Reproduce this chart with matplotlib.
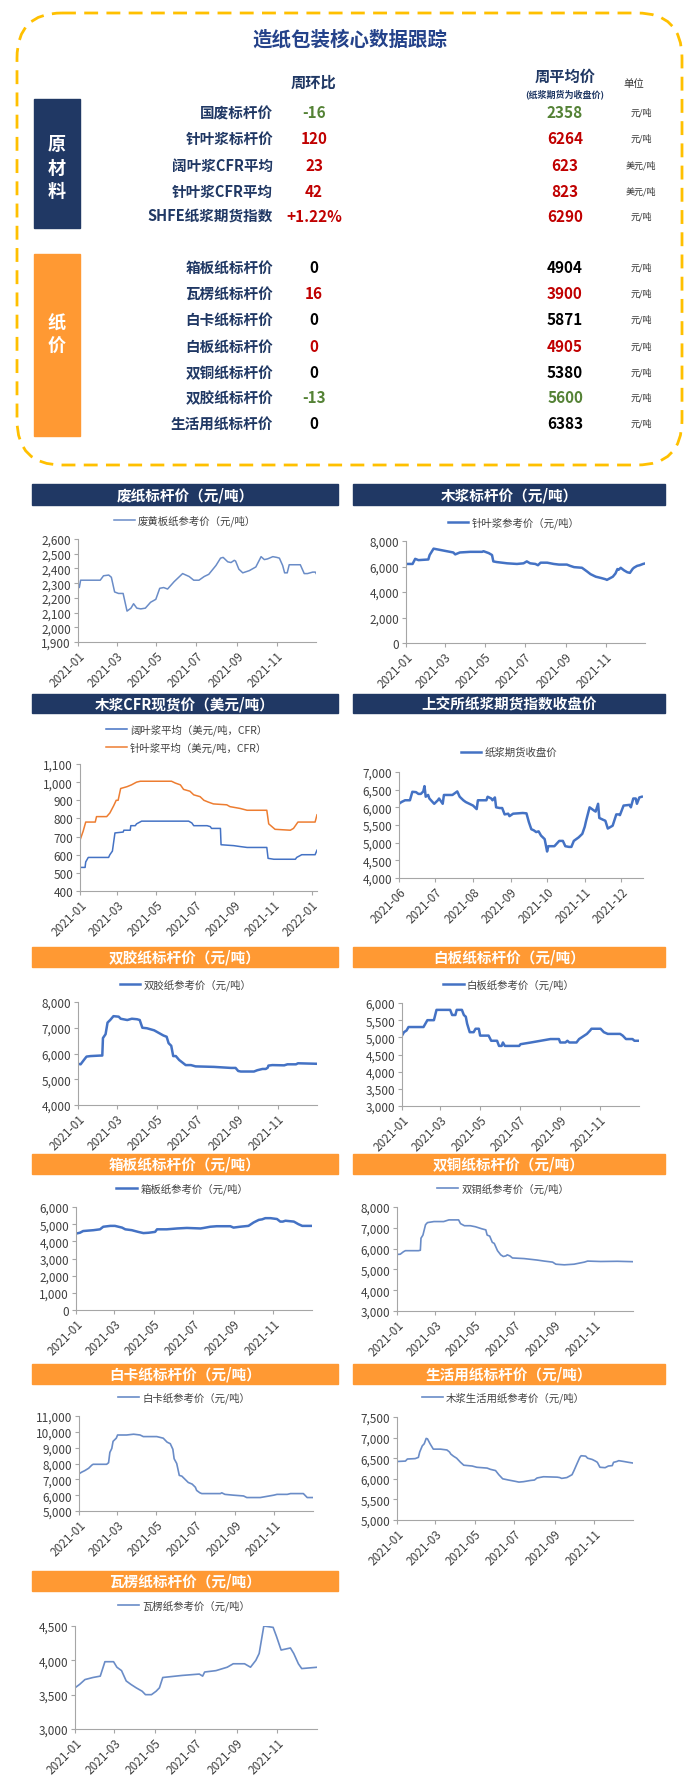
import matplotlib
matplotlib.use('Agg')
import matplotlib.pyplot as plt
import matplotlib.dates as mdates
from matplotlib.patches import FancyBboxPatch, Rectangle
from matplotlib.ticker import FuncFormatter, MultipleLocator
import numpy as np

plt.rcParams['font.family'] = ['Noto Sans CJK SC', 'DejaVu Sans']

# ---------------- table data ----------------
raw_labels = ['国废标杆价', '针叶浆标杆价', '阔叶浆CFR平均', '针叶浆CFR平均', 'SHFE纸浆期货指数']
raw_wow = ['-16', '120', '23', '42', '+1.22%']
raw_avg = ['2358', '6264', '623', '823', '6290']
raw_units = ['元/吨', '元/吨', '美元/吨', '美元/吨', '元/吨']
raw_tone = ['down', 'up', 'up', 'up', 'up']

paper_labels = ['箱板纸标杆价', '瓦楞纸标杆价', '白卡纸标杆价', '白板纸标杆价',
                '双铜纸标杆价', '双胶纸标杆价', '生活用纸标杆价']
paper_wow = ['0', '16', '0', '0', '0', '-13', '0']
paper_avg = ['4904', '3900', '5871', '4905', '5380', '5600', '6383']
paper_units = ['元/吨'] * 7
paper_tone = ['flat', 'up', 'flat', 'up', 'flat', 'down', 'flat']

# ---------------- series data (days since start date) ----------------
waste_days = [0, 2, 4, 9, 34, 39, 47, 51, 56, 62, 69, 75, 81, 85, 90, 96, 103, 111, 119, 125,
              131, 137, 147, 160, 170, 177, 185, 193, 200, 211, 218, 222, 229, 234, 239, 241,
              246, 252, 262, 272, 280, 285, 290, 298, 304, 308, 313, 316, 320, 323, 336, 340,
              346, 351, 359, 363, 365]
waste_vals = [2300, 2270, 2320, 2320, 2320, 2350, 2355, 2340, 2240, 2230, 2230, 2110, 2130, 2160,
              2130, 2125, 2130, 2170, 2190, 2265, 2270, 2260, 2310, 2365, 2345, 2320, 2320, 2345,
              2360, 2420, 2470, 2475, 2445, 2440, 2455, 2450, 2395, 2370, 2385, 2410, 2480, 2460,
              2465, 2480, 2475, 2470, 2420, 2370, 2370, 2425, 2425, 2425, 2365, 2365, 2375, 2375,
              2360]

nbsk_days = [0, 10, 14, 19, 34, 36, 42, 47, 57, 67, 72, 75, 82, 98, 116, 118, 126, 131, 133, 138,
             154, 169, 179, 184, 189, 197, 201, 205, 215, 225, 233, 245, 250, 256, 268, 276, 281,
             289, 297, 304, 306, 315, 319, 322, 324, 327, 332, 337, 341, 345, 347, 352, 356, 361,
             365]
nbsk_vals = [6200, 6200, 6600, 6500, 6550, 6900, 7400, 7350, 7250, 7150, 7100, 6950, 7100, 7150,
             7150, 7200, 7050, 6900, 6400, 6350, 6250, 6200, 6250, 6400, 6250, 6200, 6100, 6300,
             6300, 6200, 6150, 6150, 6050, 5950, 5900, 5600, 5400, 5200, 5100, 5000, 4950, 5200,
             5450, 5800, 5750, 5900, 5700, 5550, 5500, 5800, 5900, 6050, 6100, 6200, 6250]

hw_cfr_days = [0, 8, 9, 13, 45, 47, 51, 55, 68, 69, 79, 80, 87, 89, 97, 171, 176, 179, 200, 205,
               207, 221, 222, 242, 252, 263, 294, 296, 305, 339, 341, 349, 370, 373]
hw_cfr_vals = [530, 530, 560, 585, 585, 600, 620, 720, 725, 735, 735, 760, 760, 770, 785, 785,
               775, 760, 760, 755, 745, 745, 655, 650, 645, 640, 640, 580, 575, 575, 585, 600,
               600, 625]
sw_cfr_days = [0, 5, 9, 24, 26, 42, 47, 53, 57, 60, 64, 74, 81, 89, 95, 144, 150, 158, 163, 173,
               179, 189, 195, 202, 210, 231, 236, 252, 263, 294, 297, 302, 307, 331, 336, 343,
               370, 373]
sw_cfr_vals = [680, 730, 780, 780, 810, 810, 830, 870, 900, 900, 965, 975, 985, 1000, 1005, 1005,
               995, 985, 960, 950, 930, 920, 900, 890, 880, 875, 865, 855, 845, 845, 770, 755,
               740, 735, 745, 780, 780, 820]

fut_days = [0, 2, 5, 9, 11, 14, 16, 18, 20, 21, 22, 24, 25, 29, 32, 33, 36, 37, 39, 44, 48, 50,
            53, 55, 58, 61, 64, 65, 69, 72, 73, 76, 77, 79, 80, 83, 85, 87, 90, 91, 94, 102, 105,
            107, 109, 111, 113, 115, 117, 120, 122, 123, 128, 132, 135, 137, 140, 142, 144, 148,
            151, 153, 154, 157, 161, 162, 164, 165, 168, 170, 172, 176, 179, 181, 182, 185, 190,
            191, 193, 195, 196, 198, 200]
fut_vals = [6100, 6150, 6200, 6200, 6440, 6430, 6380, 6380, 6450, 6600, 6300, 6350, 6250, 6100,
            6200, 6250, 6100, 6350, 6350, 6350, 6450, 6300, 6200, 6150, 6100, 6050, 5950, 6200,
            6200, 6200, 6300, 6250, 6200, 6280, 6000, 5980, 5980, 5800, 5820, 5750, 5820, 5840,
            5830, 5580, 5380, 5350, 5300, 5320, 5200, 5100, 4750, 4900, 4900, 5050, 5050, 4900,
            4880, 4880, 5050, 5150, 5250, 5450, 5600, 6000, 5900, 5880, 6100, 5700, 5650, 5620,
            5400, 5480, 5800, 5800, 5780, 6050, 6070, 6000, 6250, 6250, 6100, 6280, 6300]

woodfree_days = [0, 4, 9, 13, 19, 34, 37, 38, 42, 45, 49, 54, 62, 65, 75, 82, 90, 94, 98, 105,
                 116, 123, 130, 135, 138, 142, 145, 149, 154, 159, 164, 172, 179, 207, 233, 240,
                 244, 248, 268, 273, 281, 286, 289, 290, 296, 314, 319, 332, 335, 350, 365]
woodfree_vals = [5600, 5580, 5750, 5880, 5900, 5920, 5920, 6600, 6750, 7200, 7300, 7450, 7430,
                 7350, 7300, 7350, 7330, 7300, 7000, 6980, 6900, 6800, 6700, 6650, 6400, 6300,
                 5900, 5900, 5750, 5650, 5550, 5550, 5500, 5480, 5440, 5440, 5320, 5300, 5300,
                 5350, 5400, 5400, 5450, 5530, 5550, 5540, 5580, 5580, 5620, 5610, 5600]

duplex_days = [0, 3, 7, 10, 33, 39, 49, 53, 74, 77, 82, 84, 92, 95, 98, 100, 104, 110, 113, 118,
               120, 133, 137, 146, 149, 153, 155, 158, 180, 182, 198, 213, 228, 241, 243, 251,
               254, 257, 268, 272, 276, 280, 284, 289, 291, 305, 310, 316, 335, 339, 344, 354,
               357, 365]
duplex_vals = [5050, 5150, 5200, 5300, 5300, 5500, 5500, 5800, 5800, 5650, 5650, 5800, 5800, 5650,
               5600, 5400, 5150, 5150, 5250, 5250, 5050, 5050, 4900, 4900, 4750, 4750, 4850, 4750,
               4750, 4800, 4850, 4900, 4950, 4950, 4850, 4850, 4900, 4850, 4850, 4950, 5000, 5050,
               5100, 5200, 5250, 5250, 5150, 5100, 5100, 5050, 4950, 4950, 4900, 4900]

liner_days = [0, 6, 11, 27, 37, 42, 53, 60, 71, 76, 86, 96, 104, 112, 122, 125, 140, 156, 171,
              192, 197, 207, 217, 238, 243, 253, 266, 274, 282, 287, 292, 300, 310, 315, 319, 323,
              336, 343, 349, 365]
liner_vals = [4450, 4500, 4600, 4650, 4700, 4850, 4900, 4900, 4800, 4700, 4650, 4550, 4480, 4500,
              4550, 4700, 4700, 4750, 4780, 4750, 4780, 4850, 4880, 4880, 4800, 4850, 4900, 5100,
              5250, 5280, 5350, 5350, 5300, 5150, 5150, 5200, 5150, 5000, 4900, 4900]

coated_days = [0, 5, 10, 13, 33, 36, 37, 40, 44, 47, 57, 72, 80, 95, 98, 104, 113, 121, 131, 137,
               139, 143, 147, 150, 155, 160, 164, 168, 170, 174, 178, 196, 216, 227, 240, 245,
               258, 273, 281, 289, 294, 314, 340, 365]
coated_vals = [5720, 5730, 5850, 5900, 5900, 5920, 6500, 6650, 7150, 7250, 7300, 7300, 7380, 7380,
               7200, 7100, 7100, 7050, 6950, 6900, 6650, 6600, 6300, 6250, 5900, 5700, 5620, 5650,
               5700, 5650, 5550, 5520, 5450, 5400, 5350, 5250, 5220, 5250, 5300, 5350, 5400, 5380,
               5390, 5370]

ivory_days = [0, 4, 9, 15, 20, 22, 43, 46, 48, 51, 53, 58, 60, 74, 85, 95, 100, 121, 131, 137,
              142, 146, 148, 152, 156, 160, 165, 170, 176, 181, 183, 188, 191, 220, 222, 227, 240,
              256, 261, 282, 303, 308, 324, 329, 349, 355, 365]
ivory_vals = [7350, 7450, 7550, 7700, 7900, 7950, 7950, 8050, 8700, 8950, 9400, 9600, 9800, 9800,
              9850, 9800, 9700, 9700, 9600, 9350, 9250, 8900, 8300, 8000, 7250, 7200, 7000, 6800,
              6700, 6500, 6300, 6150, 6100, 6100, 6150, 6050, 6000, 5950, 5850, 5850, 6000, 6050,
              6050, 6100, 6100, 5850, 5850]

tissue_days = [0, 13, 16, 28, 33, 35, 39, 42, 45, 47, 51, 56, 67, 77, 81, 83, 87, 92, 98, 103,
               116, 123, 139, 144, 152, 157, 163, 172, 182, 188, 195, 206, 212, 216, 226, 247,
               251, 254, 262, 270, 273, 278, 282, 284, 291, 294, 301, 306, 309, 313, 321, 326,
               332, 334, 339, 342, 350, 357, 365]
tissue_vals = [6420, 6430, 6480, 6490, 6520, 6650, 6800, 6850, 6980, 6970, 6850, 6720, 6720, 6700,
               6650, 6600, 6550, 6500, 6400, 6330, 6310, 6280, 6260, 6230, 6200, 6100, 6000, 5970,
               5940, 5920, 5930, 5960, 5970, 6020, 6050, 6040, 6030, 6010, 6030, 6100, 6200, 6380,
               6520, 6560, 6550, 6500, 6470, 6430, 6400, 6280, 6270, 6310, 6320, 6400, 6420, 6440,
               6420, 6400, 6380]

corr_days = [0, 7, 15, 27, 38, 45, 58, 63, 70, 77, 84, 92, 101, 106, 115, 122, 127, 132, 161, 187,
             192, 195, 212, 229, 238, 255, 264, 272, 277, 284, 298, 303, 310, 324, 329, 336, 341,
             365]
corr_vals = [3600, 3650, 3720, 3750, 3770, 3980, 3980, 3900, 3850, 3700, 3650, 3600, 3550, 3500,
             3500, 3550, 3600, 3750, 3780, 3800, 3770, 3830, 3850, 3900, 3950, 3950, 3900, 4000,
             4100, 4500, 4480, 4350, 4150, 4180, 4100, 3950, 3880, 3900]

year_ticks = ['2021-01', '2021-03', '2021-05', '2021-07', '2021-09', '2021-11']

# ---------------- styles ----------------
W, H = 700, 1781
NAVY = '#203864'
ORANGE = '#FF9933'
BLUE = '#4472C4'
BLUE_THIN = '#6A8CC7'
TONE = {'up': '#C00000', 'down': '#548235', 'flat': '#000000'}

fig = plt.figure(figsize=(W / 100, H / 100), dpi=100)
bg = fig.add_axes([0, 0, 1, 1])
bg.set_xlim(0, W)
bg.set_ylim(H, 0)
bg.axis('off')

# dashed frame round the table
frame = FancyBboxPatch((17, 14), 665, 452, boxstyle='round,pad=0,rounding_size=45',
                       fill=False, edgecolor='#FFC000', lw=2, linestyle=(0, (5, 3)))
bg.add_patch(frame)
bg.text(350, 40, '造纸包装核心数据跟踪', ha='center', va='center', fontsize=14,
        fontweight='bold', color='#24428A')

col_label, col_wow, col_avg, col_unit = 273, 314, 565, 641
bg.text(col_wow, 83, '周环比', ha='center', va='center', fontsize=11, fontweight='bold', color=NAVY)
bg.text(col_avg, 77, '周平均价', ha='center', va='center', fontsize=11, fontweight='bold', color=NAVY)
bg.text(col_avg, 94, '(纸浆期货为收盘价)', ha='center', va='center', fontsize=6.5,
        fontweight='bold', color=NAVY)
bg.text(634, 84, '单位', ha='center', va='center', fontsize=7.5, color='#333333')

bg.add_patch(Rectangle((34, 100), 46, 129, color=NAVY))
for ch, yy in zip('原材料', [145, 168, 191]):
    bg.text(57, yy, ch, ha='center', va='center', fontsize=13, fontweight='bold', color='white')
bg.add_patch(Rectangle((34, 255), 46, 182, color=ORANGE))
for ch, yy in zip('纸价', [322, 346]):
    bg.text(57, yy, ch, ha='center', va='center', fontsize=13, fontweight='bold', color='white')


def table_rows(labels, wow, avg, units, tone, ys):
    for lab, w, a, u, t, yy in zip(labels, wow, avg, units, tone, ys):
        bg.text(col_label, yy, lab, ha='right', va='center', fontsize=10.5,
                fontweight='bold', color=NAVY)
        bg.text(col_wow, yy, w, ha='center', va='center', fontsize=11,
                fontweight='bold', color=TONE[t])
        bg.text(col_avg, yy, a, ha='center', va='center', fontsize=11,
                fontweight='bold', color=TONE[t])
        bg.text(col_unit, yy, u, ha='center', va='center', fontsize=6.5, color='#333333')


table_rows(raw_labels, raw_wow, raw_avg, raw_units, raw_tone, [113, 139, 166, 192, 217])
table_rows(paper_labels, paper_wow, paper_avg, paper_units, paper_tone,
           [268, 294, 320, 347, 373, 398, 424])

# ---------------- chart panels ----------------
LEFT, RIGHT = (32, 338), (353, 665)
headers = [
    (LEFT, 485, 506, NAVY, '废纸标杆价（元/吨）'),
    (RIGHT, 485, 506, NAVY, '木浆标杆价（元/吨）'),
    (LEFT, 695, 714, NAVY, '木浆CFR现货价（美元/吨）'),
    (RIGHT, 695, 714, NAVY, '上交所纸浆期货指数收盘价'),
    (LEFT, 948, 968, ORANGE, '双胶纸标杆价（元/吨）'),
    (RIGHT, 948, 968, ORANGE, '白板纸标杆价（元/吨）'),
    (LEFT, 1155, 1175, ORANGE, '箱板纸标杆价（元/吨）'),
    (RIGHT, 1155, 1175, ORANGE, '双铜纸标杆价（元/吨）'),
    (LEFT, 1365, 1385, ORANGE, '白卡纸标杆价（元/吨）'),
    (RIGHT, 1365, 1385, ORANGE, '生活用纸标杆价（元/吨）'),
    (LEFT, 1572, 1592, ORANGE, '瓦楞纸标杆价（元/吨）'),
]
for (x0, x1), y0, y1, c, title in headers:
    bg.add_patch(Rectangle((x0, y0), x1 - x0, y1 - y0, color=c))
    bg.text((x0 + x1) / 2, (y0 + y1) / 2, title, ha='center', va='center', fontsize=10.5,
            fontweight='bold', color='white')


def px_axes(x0, y0, x1, y1):
    return fig.add_axes([x0 / W, 1 - y1 / H, (x1 - x0) / W, (y1 - y0) / H])


def to_dates(start, days):
    return np.datetime64(start) + np.array(days).astype('timedelta64[D]')


def line_chart(box, legend_y, start, series, ylim, ystep, xend, ticks, label_spacing=0.5):
    x0, y0, x1, y1 = box
    ax = px_axes(x0, y0, x1, y1)
    ax.set_facecolor('none')
    for days, vals, label, color, lw in series:
        ax.plot(to_dates(start, days), vals, color=color, lw=lw, label=label)
    ax.set_xlim(np.datetime64(start), np.datetime64(xend))
    ax.set_ylim(*ylim)
    ax.yaxis.set_major_locator(MultipleLocator(ystep))
    ax.yaxis.set_major_formatter(FuncFormatter(lambda v, p: f'{v:,.0f}'))
    ax.set_xticks([np.datetime64(t + '-01') for t in ticks])
    ax.xaxis.set_major_formatter(mdates.DateFormatter('%Y-%m'))
    for s in ['top', 'right']:
        ax.spines[s].set_visible(False)
    for s in ['left', 'bottom']:
        ax.spines[s].set_color('#A6A6A6')
        ax.spines[s].set_linewidth(0.8)
    ax.tick_params(axis='both', colors='#A6A6A6', length=3, width=0.8, labelsize=8.5,
                   labelcolor='#404040', pad=2)
    plt.setp(ax.get_xticklabels(), rotation=45, ha='right', rotation_mode='anchor')
    h = y1 - y0
    ax.legend(loc='center', bbox_to_anchor=(0.45, 1 + (y0 - legend_y) / h), frameon=False,
              fontsize=7.5, handlelength=2.0, handletextpad=0.3, labelcolor='#404040',
              labelspacing=label_spacing, borderpad=0)
    return ax


line_chart((78, 540, 316, 643), 521, '2021-01-01',
           [(waste_days, waste_vals, '废黄板纸参考价（元/吨）', BLUE_THIN, 1.1)],
           (1900, 2600), 100, '2021-12-31', year_ticks)
line_chart((406, 542, 645, 644), 523, '2021-01-01',
           [(nbsk_days, nbsk_vals, '针叶浆参考价（元/吨）', BLUE, 1.8)],
           (0, 8000), 2000, '2021-12-31', year_ticks)
line_chart((80, 765, 317, 892), 739, '2021-01-01',
           [(hw_cfr_days, hw_cfr_vals, '阔叶浆平均（美元/吨，CFR）', BLUE, 1.1),
            (sw_cfr_days, sw_cfr_vals, '针叶浆平均（美元/吨，CFR）', '#ED7D31', 1.1)],
           (400, 1100), 100, '2022-01-09', year_ticks + ['2022-01'], label_spacing=0.6)
line_chart((399, 773, 643, 879), 753, '2021-06-01',
           [(fut_days, fut_vals, '纸浆期货收盘价', BLUE, 1.8)],
           (4000, 7000), 500, '2021-12-19',
           ['2021-06', '2021-07', '2021-08', '2021-09', '2021-10', '2021-11', '2021-12'])
line_chart((78, 1003, 317, 1106), 985, '2021-01-01',
           [(woodfree_days, woodfree_vals, '双胶纸参考价（元/吨）', BLUE, 1.8)],
           (4000, 8000), 1000, '2021-12-31', year_ticks)
line_chart((402, 1004, 639, 1107), 985, '2021-01-01',
           [(duplex_days, duplex_vals, '白板纸参考价（元/吨）', BLUE, 1.8)],
           (3000, 6000), 500, '2021-12-31', year_ticks)
line_chart((76, 1208, 312, 1311), 1189, '2021-01-01',
           [(liner_days, liner_vals, '箱板纸参考价（元/吨）', BLUE, 1.8)],
           (0, 6000), 1000, '2021-12-31', year_ticks)
line_chart((397, 1208, 633, 1312), 1189, '2021-01-01',
           [(coated_days, coated_vals, '双铜纸参考价（元/吨）', BLUE_THIN, 1.2)],
           (3000, 8000), 1000, '2021-12-31', year_ticks)
line_chart((79, 1417, 313, 1512), 1398, '2021-01-01',
           [(ivory_days, ivory_vals, '白卡纸参考价（元/吨）', BLUE_THIN, 1.2)],
           (5000, 11000), 1000, '2021-12-31', year_ticks)
line_chart((397, 1418, 633, 1521), 1398, '2021-01-01',
           [(tissue_days, tissue_vals, '木浆生活用纸参考价（元/吨）', BLUE_THIN, 1.2)],
           (5000, 7500), 500, '2021-12-31', year_ticks)
line_chart((75, 1627, 317, 1730), 1606, '2021-01-01',
           [(corr_days, corr_vals, '瓦楞纸参考价（元/吨）', BLUE_THIN, 1.2)],
           (3000, 4500), 500, '2021-12-31', year_ticks)

fig.savefig('out.png', dpi=100, facecolor='white')
